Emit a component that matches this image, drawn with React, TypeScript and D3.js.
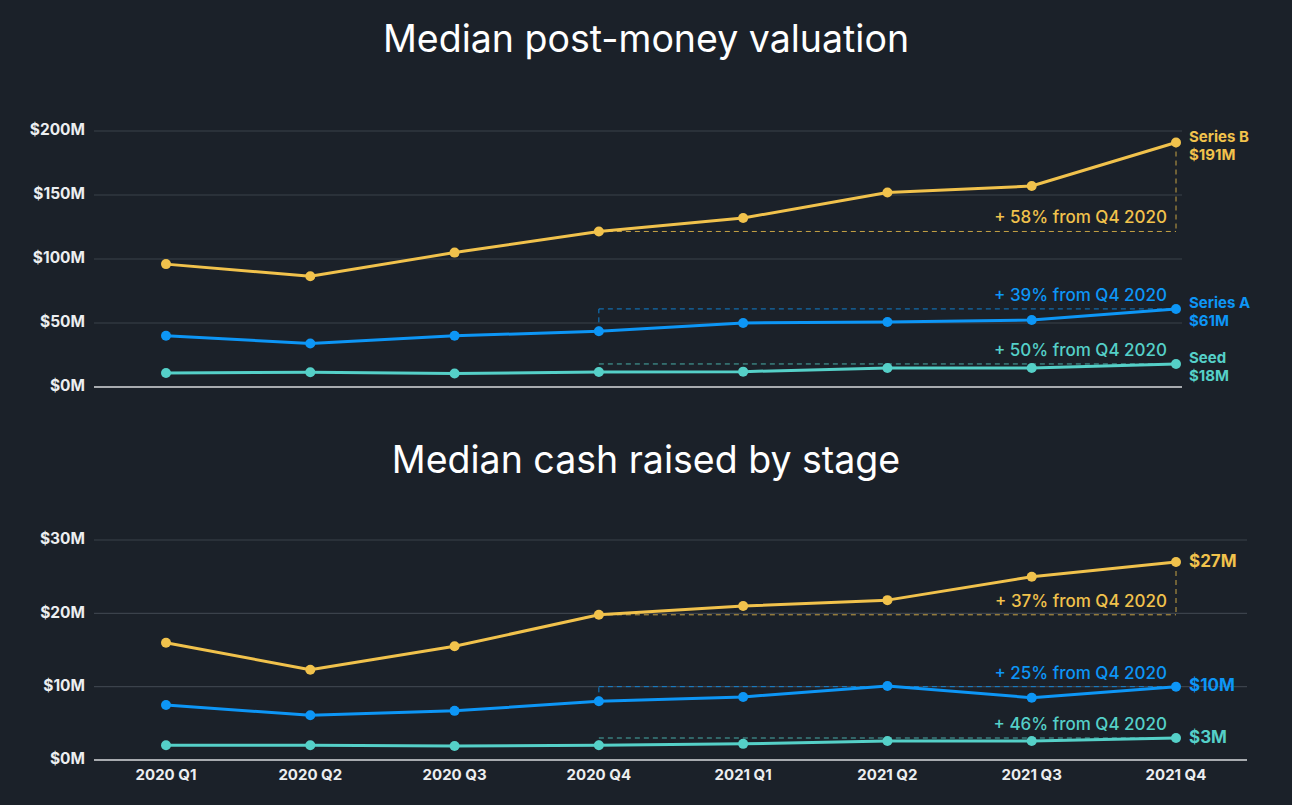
import React from "react";
import * as d3 from "d3";

const quarters = ["2020 Q1", "2020 Q2", "2020 Q3", "2020 Q4", "2021 Q1", "2021 Q2", "2021 Q3", "2021 Q4"];

// Median post-money valuation ($M)
const valSeriesB = [96, 86.5, 105, 121.5, 132, 152, 157, 191];
const valSeriesA = [40, 34, 40, 43.5, 50, 50.8, 52.3, 61];
const valSeed = [11, 11.5, 10.5, 11.7, 12, 14.8, 14.8, 18];
const valTicks = [0, 50, 100, 150, 200];

// Median cash raised ($M)
const cashSeriesB = [16, 12.3, 15.5, 19.8, 21, 21.8, 25, 27];
const cashSeriesA = [7.5, 6.1, 6.7, 8.0, 8.6, 10.1, 8.5, 10];
const cashSeed = [2.0, 2.0, 1.9, 2.0, 2.2, 2.6, 2.6, 3.0];
const cashTicks = [0, 10, 20, 30];

const valLabels = { b: ["Series B", "$191M"], a: ["Series A", "$61M"], s: ["Seed", "$18M"] };
const cashLabels = { b: "$27M", a: "$10M", s: "$3M" };
const valPct = { b: "+ 58% from Q4 2020", a: "+ 39% from Q4 2020", s: "+ 50% from Q4 2020" };
const cashPct = { b: "+ 37% from Q4 2020", a: "+ 25% from Q4 2020", s: "+ 46% from Q4 2020" };

const COL = { b: "#f1c24c", a: "#0d96f6", s: "#55d0c8" };
const BG = "#1b2129";
const FONT = "Inter, 'Noto Sans', sans-serif";

const W = 1292;
const H = 805;

const x = d3.scalePoint<string>().domain(quarters).range([166, 1176]);
const gridX0 = 94;

function Lines({ y, series }: { y: d3.ScaleLinear<number, number>; series: { key: "b" | "a" | "s"; values: number[] }[] }) {
  const line = d3
    .line<number>()
    .x((_, i) => x(quarters[i]) as number)
    .y((v) => y(v));
  return (
    <g>
      {series.map((s) => (
        <g key={s.key}>
          <path d={line(s.values) || ""} fill="none" stroke={COL[s.key]} strokeWidth={3} strokeLinejoin="round" />
          {s.values.map((v, i) => (
            <circle key={i} cx={x(quarters[i])} cy={y(v)} r={5} fill={COL[s.key]} />
          ))}
        </g>
      ))}
    </g>
  );
}

function Grid({ y, ticks, x1 }: { y: d3.ScaleLinear<number, number>; ticks: number[]; x1: number }) {
  return (
    <g>
      {ticks.map((t) => (
        <g key={t}>
          {t !== 0 && <line x1={gridX0} x2={x1} y1={y(t)} y2={y(t)} stroke="#3b424b" strokeWidth={1.2} />}
          <text
            x={85}
            y={y(t)}
            textAnchor="end"
            dominantBaseline="middle"
            fill="#eceef0"
            fontSize={15.5}
            fontWeight={700}
            fontFamily={FONT}
          >
            {"$" + t + "M"}
          </text>
        </g>
      ))}
      <line x1={gridX0} x2={x1} y1={y(0)} y2={y(0)} stroke="#d8dadc" strokeWidth={1.5} />
    </g>
  );
}

function Annot({
  y,
  values,
  color,
  text,
  mode,
}: {
  y: d3.ScaleLinear<number, number>;
  values: number[];
  color: string;
  text: string;
  mode: "down" | "up";
}) {
  const xr = x(quarters[3]) as number;
  const xf = x(quarters[7]) as number;
  const yr = y(values[3]);
  const yf = y(values[7]);
  const level = mode === "down" ? yr : yf;
  return (
    <g>
      <line x1={xr} x2={xf} y1={level} y2={level} stroke={color} strokeWidth={1} strokeDasharray="5 4" opacity={0.8} />
      {mode === "down" ? (
        <line x1={xf} x2={xf} y1={yf} y2={yr} stroke={color} strokeWidth={1} strokeDasharray="5 4" opacity={0.8} />
      ) : (
        <line x1={xr} x2={xr} y1={yr} y2={yf} stroke={color} strokeWidth={1} strokeDasharray="5 4" opacity={0.8} />
      )}
      <text x={1167} y={level - 8} textAnchor="end" fill={color} fontSize={17} fontWeight={500} fontFamily={FONT}>
        {text}
      </text>
    </g>
  );
}

export default function App() {
  const yTop = d3.scaleLinear().domain([0, 200]).range([387, 131]);
  const yBot = d3.scaleLinear().domain([0, 30]).range([760, 540]);
  const xf = x(quarters[7]) as number;

  const topSeries = [
    { key: "b" as const, values: valSeriesB },
    { key: "a" as const, values: valSeriesA },
    { key: "s" as const, values: valSeed },
  ];
  const botSeries = [
    { key: "b" as const, values: cashSeriesB },
    { key: "a" as const, values: cashSeriesA },
    { key: "s" as const, values: cashSeed },
  ];

  return (
    <svg width={W} height={H} style={{ position: "absolute", left: 0, top: 0, background: BG }}>
      <rect width={W} height={H} fill={BG} />
      <text x={646} y={52} textAnchor="middle" fill="#ffffff" fontSize={37.5} fontFamily={FONT}>
        Median post-money valuation
      </text>
      <text x={646} y={473} textAnchor="middle" fill="#ffffff" fontSize={37.5} fontFamily={FONT}>
        Median cash raised by stage
      </text>

      {/* Top panel */}
      <Grid y={yTop} ticks={valTicks} x1={1182} />
      <Annot y={yTop} values={valSeriesB} color={COL.b} text={valPct.b} mode="down" />
      <Annot y={yTop} values={valSeriesA} color={COL.a} text={valPct.a} mode="up" />
      <Annot y={yTop} values={valSeed} color={COL.s} text={valPct.s} mode="up" />
      <Lines y={yTop} series={topSeries} />
      {topSeries.map((s) => (
        <g key={s.key}>
          <text x={xf + 13} y={yTop(s.values[7]) - 1} fill={COL[s.key]} fontSize={15} fontWeight={700} fontFamily={FONT}>
            {valLabels[s.key][0]}
          </text>
          <text x={xf + 13} y={yTop(s.values[7]) + 17} fill={COL[s.key]} fontSize={15} fontWeight={700} fontFamily={FONT}>
            {valLabels[s.key][1]}
          </text>
        </g>
      ))}

      {/* Bottom panel */}
      <Grid y={yBot} ticks={cashTicks} x1={1247} />
      <Annot y={yBot} values={cashSeriesB} color={COL.b} text={cashPct.b} mode="down" />
      <Annot y={yBot} values={cashSeriesA} color={COL.a} text={cashPct.a} mode="up" />
      <Annot y={yBot} values={cashSeed} color={COL.s} text={cashPct.s} mode="up" />
      <Lines y={yBot} series={botSeries} />
      {botSeries.map((s) => (
        <text
          key={s.key}
          x={xf + 13}
          y={yBot(s.values[7])}
          dominantBaseline="middle"
          fill={COL[s.key]}
          fontSize={17}
          fontWeight={700}
          fontFamily={FONT}
        >
          {cashLabels[s.key]}
        </text>
      ))}

      {/* x axis labels */}
      {quarters.map((q) => (
        <text
          key={q}
          x={x(q)}
          y={776}
          textAnchor="middle"
          dominantBaseline="middle"
          fill="#eceef0"
          fontSize={15}
          fontWeight={700}
          fontFamily={FONT}
        >
          {q}
        </text>
      ))}
    </svg>
  );
}
